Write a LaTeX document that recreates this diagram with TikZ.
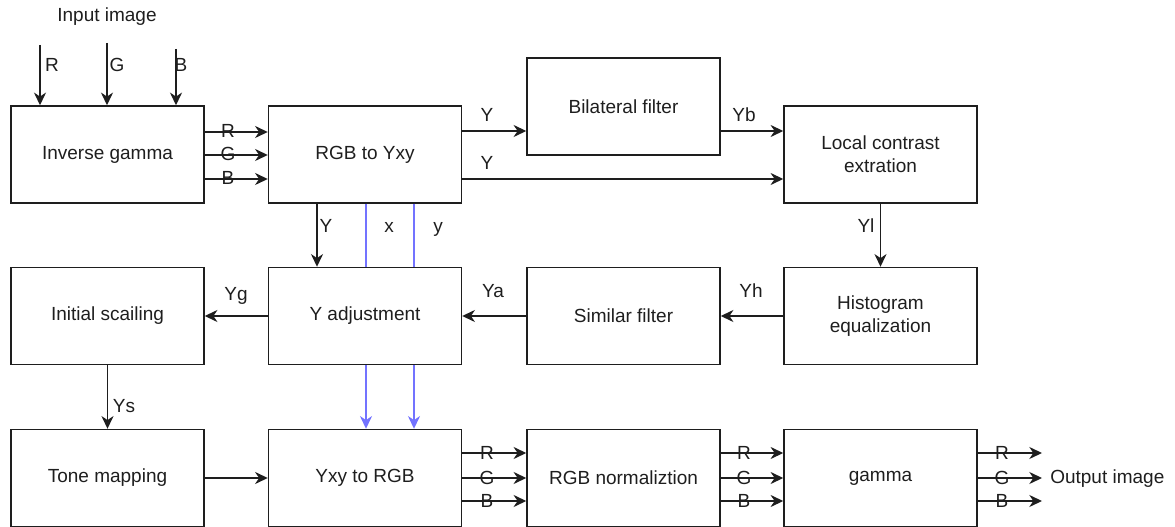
\documentclass[tikz,border=0pt]{standalone}
\usepackage{fontspec}
\setmainfont{Liberation Sans}
\usetikzlibrary{arrows.meta}
\definecolor{bl}{HTML}{7373FF}
\definecolor{ink}{HTML}{1E1E1E}
\begin{document}
\begin{tikzpicture}[x=0.75pt,y=-0.75pt,
  font=\fontsize{14.25pt}{17.5pt}\selectfont,
  box/.style={draw=ink, line width=1.1pt, minimum width=144.75pt, minimum height=72.75pt, inner sep=0pt, align=center, text=ink},
  arr/.style={draw=ink, line width=1.1pt, -{Stealth[length=9.5pt,width=9pt,inset=3pt]}},
  barr/.style={draw=bl, line width=1.1pt, -{Stealth[length=9.5pt,width=9pt,inset=3pt]}},
  bline/.style={draw=bl, line width=1.1pt},
  lbl/.style={inner sep=0pt, anchor=base, text=ink}]
\useasboundingbox (0,0) rectangle (1175,527);

% boxes
\node[box] (ig) at (107.5,154.5) {Inverse gamma};
\node[box] (rgb2yxy) at (365,154.5) {RGB to Yxy};
\node[box] (bf) at (623.5,106.5) {Bilateral filter};
\node[box] (lc) at (880.5,154.5) {Local contrast\\extration};
\node[box] (is) at (107.5,316) {Initial scailing};
\node[box] (ya) at (365,316) {Y adjustment};
\node[box] (sf) at (623.5,316) {Similar filter};
\node[box] (he) at (880.5,316) {Histogram\\equalization};
\node[box] (tm) at (107.5,478) {Tone mapping};
\node[box] (yxy2rgb) at (365,478) {Yxy to RGB};
\node[box] (rn) at (623.5,478) {RGB normaliztion};
\node[box] (gm) at (880.5,478) {gamma};

% input
\node[inner sep=0pt, text=ink] (inlbl) at (107,17) {Input image};
\coordinate (inR) at (40,45);
\coordinate (inG) at (107,43);
\coordinate (inB) at (176,49);
\draw[arr] (inR) -- (inR |- ig.north);
\draw[arr] (inG) -- (inG |- ig.north);
\draw[arr] (inB) -- (inB |- ig.north);
\node[lbl] (lR0) at (52,72) {R};
\node[lbl] (lG0) at (117,72) {G};
\node[lbl] (lB0) at (181,72) {B};

% inverse gamma -> RGB to Yxy
\coordinate (h1) at (0,132);
\coordinate (h2) at (0,155);
\coordinate (h3) at (0,179);
\draw[arr] (ig.east |- h1) -- (rgb2yxy.west |- h1);
\draw[arr] (ig.east |- h2) -- (rgb2yxy.west |- h2);
\draw[arr] (ig.east |- h3) -- (rgb2yxy.west |- h3);
\node[lbl] (lR1) at (228,137.5) {R};
\node[lbl] (lG1) at (228,160.5) {G};
\node[lbl] (lB1) at (228,184.5) {B};

% RGB to Yxy -> bilateral / local contrast
\coordinate (t1) at (0,131);
\coordinate (t2) at (0,179);
\draw[arr] (rgb2yxy.east |- t1) -- (bf.west |- t1);
\draw[arr] (bf.east |- t1) -- (lc.west |- t1);
\draw[arr] (rgb2yxy.east |- t2) -- (lc.west |- t2);
\node[lbl] (lY1) at (487,122) {Y};
\node[lbl] (lYb) at (744,122) {Yb};
\node[lbl] (lY2) at (487,170) {Y};

% RGB to Yxy -> Y adjustment
\coordinate (vY) at (317,0);
\coordinate (vx) at (366,0);
\coordinate (vy) at (414,0);
\draw[arr] (rgb2yxy.south -| vY) -- (ya.north -| vY);
\draw[bline] (rgb2yxy.south -| vx) -- (ya.north -| vx);
\draw[bline] (rgb2yxy.south -| vy) -- (ya.north -| vy);
\node[lbl] (lY3) at (326,233) {Y};
\node[lbl] (lx) at (389,233) {x};
\node[lbl] (ly) at (438,233) {y};

% Y adjustment -> Yxy to RGB (blue)
\draw[barr] (ya.south -| vx) -- (yxy2rgb.north -| vx);
\draw[barr] (ya.south -| vy) -- (yxy2rgb.north -| vy);

% local contrast -> histogram
\draw[arr] (lc.south) -- (he.north);
\node[lbl] (lYl) at (866,233) {Yl};

% row 2 right-to-left
\draw[arr] (he.west) -- (sf.east);
\draw[arr] (sf.west) -- (ya.east);
\draw[arr] (ya.west) -- (is.east);
\node[lbl] (lYh) at (751,298) {Yh};
\node[lbl] (lYa) at (493,298) {Ya};
\node[lbl] (lYg) at (236,301) {Yg};

% initial scaling -> tone mapping
\draw[arr] (is.south) -- (tm.north);
\node[lbl] (lYs) at (124,412) {Ys};

% tone mapping -> Yxy to RGB
\draw[arr] (tm.east) -- (yxy2rgb.west);

% row 3 RGB buses
\coordinate (b1) at (0,453);
\coordinate (b2) at (0,478);
\coordinate (b3) at (0,501);
\draw[arr] (yxy2rgb.east |- b1) -- (rn.west |- b1);
\draw[arr] (yxy2rgb.east |- b2) -- (rn.west |- b2);
\draw[arr] (yxy2rgb.east |- b3) -- (rn.west |- b3);
\node[lbl] (lR2) at (487,459) {R};
\node[lbl] (lG2) at (487,484) {G};
\node[lbl] (lB2) at (487,507) {B};
\draw[arr] (rn.east |- b1) -- (gm.west |- b1);
\draw[arr] (rn.east |- b2) -- (gm.west |- b2);
\draw[arr] (rn.east |- b3) -- (gm.west |- b3);
\node[lbl] (lR3) at (744,459) {R};
\node[lbl] (lG3) at (744,484) {G};
\node[lbl] (lB3) at (744,507) {B};

% output
\coordinate (ox) at (1042,0);
\draw[arr] (gm.east |- b1) -- (ox |- b1);
\draw[arr] (gm.east |- b2) -- (ox |- b2);
\draw[arr] (gm.east |- b3) -- (ox |- b3);
\node[lbl] (lR4) at (1002,459) {R};
\node[lbl] (lG4) at (1002,484) {G};
\node[lbl] (lB4) at (1002,507) {B};
\node[inner sep=0pt, anchor=base west, text=ink] (outlbl) at (1050,483) {Output image};
\end{tikzpicture}
\end{document}
